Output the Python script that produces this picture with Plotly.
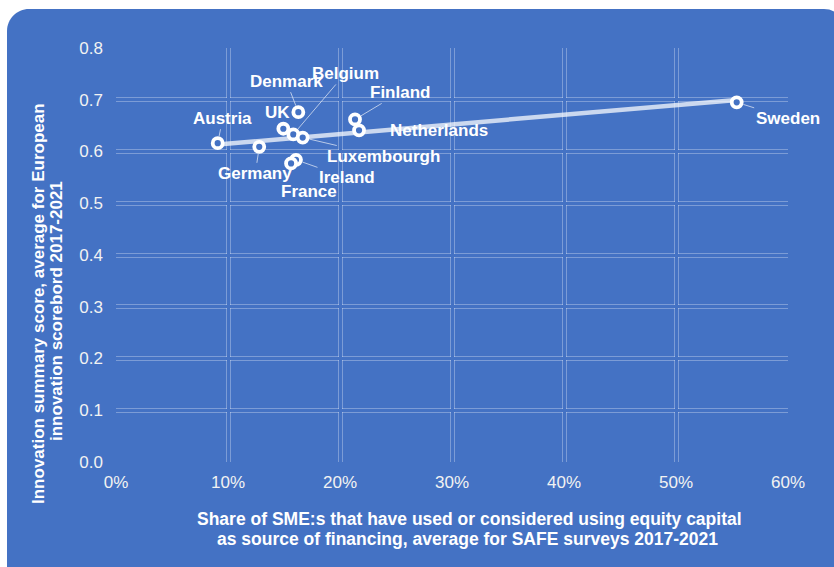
import numpy as np
import plotly.graph_objects as go

# ---------------- data ----------------
countries = ["Austria", "Germany", "UK", "Denmark", "Belgium", "Luxembourgh",
             "Ireland", "France", "Finland", "Netherlands", "Sweden"]
equity_share = [0.0908, 0.1279, 0.1494, 0.1628, 0.1583, 0.1667,
                0.1607, 0.1563, 0.2134, 0.2170, 0.5542]
innovation_score = [0.616, 0.609, 0.644, 0.676, 0.633, 0.627,
                    0.584, 0.577, 0.662, 0.641, 0.695]

x_tick_vals = [0, 0.1, 0.2, 0.3, 0.4, 0.5, 0.6]
x_tick_text = ["0%", "10%", "20%", "30%", "40%", "50%", "60%"]
y_tick_vals = [0, 0.1, 0.2, 0.3, 0.4, 0.5, 0.6, 0.7, 0.8]
y_tick_text = ["0.0", "0.1", "0.2", "0.3", "0.4", "0.5", "0.6", "0.7", "0.8"]

x_title_lines = ["Share of SME:s that have used or considered using equity capital",
                 "as source of financing, average for SAFE surveys 2017-2021"]
y_title_lines = ["Innovation summary score, average for European",
                 "innovation scorebord 2017-2021"]

# label placement (pixel offsets of label centre from its point; leader flag)
label_pos = {
    "Austria": (5, -25, True),
    "Germany": (-4, 27, True),
    "UK": (-6, -16, False),
    "Denmark": (-12, -31, True),
    "Belgium": (52, -61, True),
    "Luxembourgh": (81, 19, True),
    "Ireland": (51, 18, True),
    "France": (18, 28, False),
    "Finland": (45, -27, True),
    "Netherlands": (80, 0, False),
    "Sweden": (51, 16, True),
}

# ---------------- layout geometry ----------------
W_FIG, H_FIG = 834, 567
L, R, T, B = 116, 788, 48, 462
PW, PH = R - L, B - T
BLUE = "#4472C4"
FONT = "Liberation Sans, Arial, sans-serif"


def px(x):
    return (x - L) / PW


def py(y):
    return (B - y) / PH


slope, intercept = np.polyfit(equity_share, innovation_score, 1)
trend_x = np.array([min(equity_share), max(equity_share)])
trend_y = slope * trend_x + intercept

fig = go.Figure()

# invisible trace to create overlay axes (used for double gridlines)
fig.add_trace(go.Scatter(x=[0], y=[0], xaxis="x2", yaxis="y2", mode="markers",
                         marker=dict(opacity=0), hoverinfo="skip", showlegend=False))

fig.add_trace(go.Scatter(x=trend_x, y=trend_y, mode="lines",
                         line=dict(color="rgba(255,255,255,0.72)", width=4.5),
                         hoverinfo="skip", showlegend=False))

fig.add_trace(go.Scatter(x=equity_share, y=innovation_score, mode="markers",
                         marker=dict(size=10, color=BLUE,
                                     line=dict(color="white", width=3.8)),
                         text=countries, hoverinfo="text", showlegend=False))

label_font = dict(family=FONT, size=17, color="white")
annotations = []
for c, xv, yv in zip(countries, equity_share, innovation_score):
    ax, ay, leader = label_pos[c]
    if leader:
        annotations.append(dict(x=xv, y=yv, xref="x", yref="y", text="<b>" + c + "</b>",
                                showarrow=True, arrowhead=0, arrowwidth=1,
                                arrowcolor="rgba(225,232,245,0.75)", ax=ax, ay=ay,
                                standoff=7, font=label_font,
                                xanchor="center", yanchor="middle"))
    else:
        annotations.append(dict(x=xv, y=yv, xref="x", yref="y", text="<b>" + c + "</b>",
                                showarrow=False, xshift=ax, yshift=-ay,
                                font=label_font,
                                xanchor="center", yanchor="middle"))

title_font = dict(family=FONT, size=17.5, color="white")
ytitle_font = dict(family=FONT, size=17, color="white")
# axis titles
annotations.append(dict(x=px(469), y=py(519), xref="paper", yref="paper",
                        text="<b>" + x_title_lines[0] + "</b>", showarrow=False,
                        font=title_font, xanchor="center", yanchor="middle"))
annotations.append(dict(x=px(467.5), y=py(538.5), xref="paper", yref="paper",
                        text="<b>" + x_title_lines[1] + "</b>", showarrow=False,
                        font=title_font, xanchor="center", yanchor="middle"))
annotations.append(dict(x=px(38), y=py(304), xref="paper", yref="paper",
                        text="<b>" + y_title_lines[0] + "</b>", showarrow=False,
                        textangle=-90, font=ytitle_font,
                        xanchor="center", yanchor="middle"))
annotations.append(dict(x=px(56), y=py(311), xref="paper", yref="paper",
                        text="<b>" + y_title_lines[1] + "</b>", showarrow=False,
                        textangle=-90, font=ytitle_font,
                        xanchor="center", yanchor="middle"))

# rounded blue background
x0, y0, x1, y1, r = 7, 9, 846, 600, 22
k = 0.5523 * r


def P(x, y):
    return f"{px(x):.5f},{py(y):.5f}"


path = (f"M {P(x0 + r, y0)} L {P(x1 - r, y0)} "
        f"C {P(x1 - r + k, y0)} {P(x1, y0 + r - k)} {P(x1, y0 + r)} "
        f"L {P(x1, y1 - r)} "
        f"C {P(x1, y1 - r + k)} {P(x1 - r + k, y1)} {P(x1 - r, y1)} "
        f"L {P(x0 + r, y1)} "
        f"C {P(x0 + r - k, y1)} {P(x0, y1 - r + k)} {P(x0, y1 - r)} "
        f"L {P(x0, y0 + r)} "
        f"C {P(x0, y0 + r - k)} {P(x0 + r - k, y0)} {P(x0 + r, y0)} Z")

shapes = [dict(type="path", path=path, xref="paper", yref="paper",
               fillcolor=BLUE, line=dict(width=0), layer="below")]

grid_base = "rgba(255,255,255,0.30)"
axis_common = dict(showline=False, zeroline=False, ticks="")

fig.update_layout(
    width=W_FIG, height=H_FIG,
    margin=dict(l=L, r=W_FIG - R, t=T, b=H_FIG - B, pad=0),
    paper_bgcolor="white", plot_bgcolor="rgba(0,0,0,0)",
    showlegend=False,
    font=dict(family=FONT, size=17, color="white"),
    xaxis=dict(range=[0, 0.6], tickvals=x_tick_vals, ticktext=x_tick_text,
               showgrid=True, gridcolor=grid_base, gridwidth=5,
               tickfont=dict(family=FONT, size=17, color="#F2F2F2"),
               ticklabelstandoff=8, **axis_common),
    yaxis=dict(range=[0, 0.8], tickvals=y_tick_vals, ticktext=y_tick_text,
               showgrid=True, gridcolor=grid_base, gridwidth=5,
               tickfont=dict(family=FONT, size=17, color="#F2F2F2"),
               ticklabelstandoff=12, **axis_common),
    xaxis2=dict(range=[0, 0.6], overlaying="x", tickvals=x_tick_vals,
                showticklabels=False, showgrid=True, gridcolor=BLUE, gridwidth=3,
                **axis_common),
    yaxis2=dict(range=[0, 0.8], overlaying="y", tickvals=y_tick_vals,
                showticklabels=False, showgrid=True, gridcolor=BLUE, gridwidth=3,
                **axis_common),
    annotations=annotations,
    shapes=shapes,
)

fig.write_html("out.html")
